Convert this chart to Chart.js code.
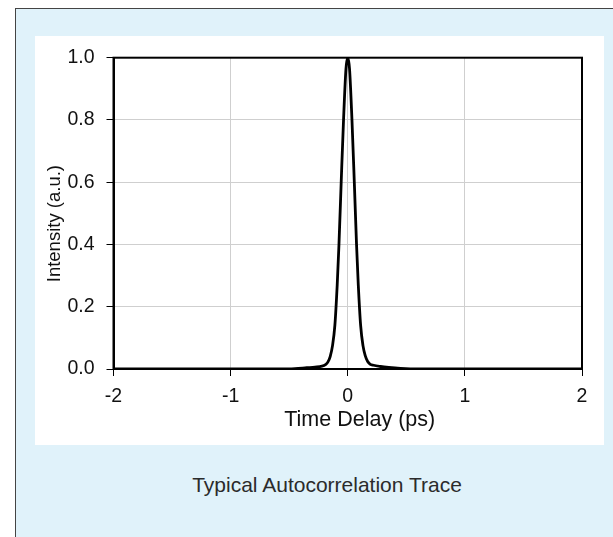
<!DOCTYPE html>
<html>
<head>
<meta charset="utf-8">
<script src="https://cdn.jsdelivr.net/npm/chart.js@4"></script>
<style>
  html, body { margin: 0; padding: 0; background: #ffffff; width: 613px; height: 537px; overflow: hidden; }
  #outer { position: absolute; left: 15px; top: 8px; width: 640px; height: 560px; background: #e0f2fa; border-left: 1px solid #444; border-top: 1px solid #444; }
  #panel { position: absolute; left: 35px; top: 36px; width: 569px; height: 409px; background: #ffffff; }
  #c { position: absolute; left: 0; top: -2px; }
  #caption { position: absolute; left: 0; top: 473px; width: 654px; text-align: center; font: 21px "Liberation Sans", Arial, sans-serif; line-height: 24px; color: #2b2b2b; }
</style>
</head>
<body>
<div id="outer"></div>
<div id="panel"><canvas id="c" width="569" height="412"></canvas></div>
<div id="caption">Typical Autocorrelation Trace</div>
<script>
// Time delay (ps) and normalized intensity
const delayPs = [-2, -1, -0.6, -0.45, -0.35, -0.28, -0.22, -0.19, -0.17, -0.15, -0.13, -0.11, -0.09, -0.075, -0.056, -0.036, -0.015, 0,
                 0.015, 0.036, 0.056, 0.075, 0.09, 0.11, 0.13, 0.15, 0.17, 0.19, 0.22, 0.28, 0.35, 0.45, 0.6, 1, 2];
const intensity = [0, 0, 0, 0.001, 0.004, 0.006, 0.009, 0.014, 0.022, 0.04, 0.075, 0.14, 0.27, 0.40, 0.60, 0.80, 0.965, 1.0,
                   0.965, 0.80, 0.60, 0.40, 0.27, 0.14, 0.075, 0.042, 0.024, 0.016, 0.012, 0.008, 0.005, 0.002, 0, 0, 0];
const xTicks = [-2, -1, 0, 1, 2];
const yTicks = [0, 0.2, 0.4, 0.6, 0.8, 1.0];
const xTitle = '    Time Delay (ps)';
const yTitle = 'Intensity (a.u.)    ';

const points = delayPs.map((x, i) => ({ x: x, y: intensity[i] }));
const FONT = '"Liberation Sans", Arial, sans-serif';

const frame = {
  id: 'frame',
  afterDraw(chart) {
    const { ctx, chartArea: a } = chart;
    ctx.save();
    ctx.strokeStyle = '#000';
    ctx.lineWidth = 2;
    ctx.strokeRect(a.left, a.top, a.right - a.left, a.bottom - a.top);
    ctx.restore();
  }
};

new Chart(document.getElementById('c'), {
  type: 'line',
  data: {
    datasets: [{
      data: points,
      borderColor: '#000',
      borderWidth: 2.8,
      pointRadius: 0,
      fill: false,
      cubicInterpolationMode: 'monotone'
    }]
  },
  options: {
    responsive: false,
    animation: false,
    devicePixelRatio: 1,
    layout: { padding: { top: 15, right: 22, left: 0, bottom: 0 } },
    plugins: { legend: { display: false }, tooltip: { enabled: false } },
    scales: {
      x: {
        type: 'linear',
        min: -2, max: 2,
        afterBuildTicks: s => { s.ticks = xTicks.map(v => ({ value: v })); },
        afterFit: s => { s.height = 77; },
        grid: { color: '#cfcfcf', lineWidth: 1, tickColor: '#000', tickLength: 7, tickWidth: 1 },
        border: { display: true, color: '#000', width: 2 },
        ticks: { color: '#111', font: { family: FONT, size: 19.5 }, padding: 9, callback: v => String(v) },
        title: { display: true, text: xTitle, color: '#111', font: { family: FONT, size: 21.5 }, padding: { top: 0, bottom: 13 } }
      },
      y: {
        type: 'linear',
        min: 0, max: 1,
        afterBuildTicks: s => { s.ticks = yTicks.map(v => ({ value: v })); },
        afterFit: s => { s.width = 78.5; },
        grid: { color: '#cfcfcf', lineWidth: 1, tickColor: '#000', tickLength: 7, tickWidth: 1 },
        border: { display: true, color: '#000', width: 2 },
        ticks: { color: '#111', font: { family: FONT, size: 19.5 }, padding: 12, callback: v => Number(v).toFixed(1) },
        title: { display: true, text: yTitle, color: '#111', font: { family: FONT, size: 18.5 }, padding: { top: 9, bottom: 0 } }
      }
    }
  },
  plugins: [frame]
});
</script>
</body>
</html>
